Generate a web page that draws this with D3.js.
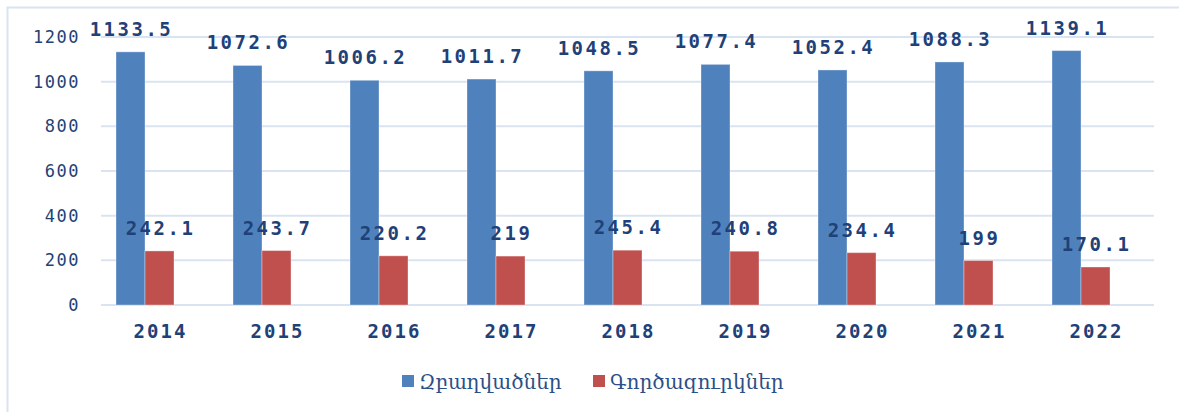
<!DOCTYPE html>
<html lang="hy">
<head>
<meta charset="utf-8">
<style>
  body { margin: 0; background: white; }
  svg { display: block; }
  .grid line { stroke: #d9e3f1; stroke-width: 2px; }
  .num { font-family: 'DejaVu Sans Mono', monospace; fill: #1f4178; }
</style>
</head>
<body>
<svg width="1179" height="412"></svg>
<script src="https://d3js.org/d3.v7.min.js"></script>
<script>
// data
var years = ["2014", "2015", "2016", "2017", "2018", "2019", "2020", "2021", "2022"];
var employed = [1133.5, 1072.6, 1006.2, 1011.7, 1048.5, 1077.4, 1052.4, 1088.3, 1139.1];
var unemployed = [242.1, 243.7, 220.2, 219, 245.4, 240.8, 234.4, 199, 170.1];
var seriesNames = ["Զբաղվածներ", "Գործազուրկներ"];
var colors = ["#4f81bd", "#c0504d"];
var yTicks = [0, 200, 400, 600, 800, 1000, 1200];

var svg = d3.select("svg");

// outer frame
svg.append("path")
    .attr("d", "M7.5,412 V7.5 H1179")
    .attr("fill", "none")
    .attr("stroke", "#d9e3f1")
    .attr("stroke-width", 2);

var plotLeft = 101, plotRight = 1154, plotTop = 37, plotBottom = 305;

var x = d3.scaleBand().domain(years).range([plotLeft, plotRight]).paddingInner(30 / 117).paddingOuter(15 / 117);
// three slots per cluster (third one empty, like the original)
var xs = d3.scaleBand().domain([0, 1, 2]).range([0, x.bandwidth()]);
var y = d3.scaleLinear().domain([0, 1200]).range([plotBottom, plotTop]);

// gridlines
svg.append("g").attr("class", "grid")
  .selectAll("line").data(yTicks).enter().append("line")
    .attr("x1", plotLeft).attr("x2", plotRight)
    .attr("y1", d => y(d)).attr("y2", d => y(d));

// y tick labels
svg.append("g").selectAll("text").data(yTicks).enter().append("text")
    .attr("class", "num")
    .attr("x", 80).attr("y", d => y(d) + 6)
    .attr("text-anchor", "end")
    .style("font-size", "17px")
    .style("letter-spacing", "1.5px")
    .text(d => d);

var series = [employed, unemployed];
series.forEach(function(vals, si) {
  var g = svg.append("g");
  g.selectAll("rect").data(vals).enter().append("rect")
      .attr("x", (d, i) => x(years[i]) + xs(si))
      .attr("width", xs.bandwidth())
      .attr("y", d => y(d))
      .attr("height", d => y(0) - y(d))
      .attr("fill", colors[si])
      .attr("stroke", "rgba(255,255,255,0.35)")
      .attr("stroke-width", 1);
  g.selectAll("text").data(vals).enter().append("text")
      .attr("class", "num")
      .attr("x", (d, i) => x(years[i]) + xs(si) + xs.bandwidth() / 2 + 1)
      .attr("y", d => y(d) - 16)
      .attr("text-anchor", "middle")
      .style("font-size", "19px")
      .style("font-weight", "bold")
      .style("letter-spacing", "2.5px")
      .text(d => d);
});

// category labels
svg.append("g").selectAll("text").data(years).enter().append("text")
    .attr("class", "num")
    .attr("x", d => x(d) + x.bandwidth() / 2 + 1)
    .attr("y", 338)
    .attr("text-anchor", "middle")
    .style("font-size", "19px")
    .style("font-weight", "bold")
    .style("letter-spacing", "2px")
    .text(d => d);

// legend
var legendX = [402, 593];
var lg = svg.append("g");
seriesNames.forEach(function(name, i) {
  lg.append("rect")
      .attr("x", legendX[i]).attr("y", 375)
      .attr("width", 12).attr("height", 12)
      .attr("fill", colors[i]);
  lg.append("text")
      .attr("x", legendX[i] + 17).attr("y", 389)
      .style("font-family", "'DejaVu Serif', serif")
      .style("font-size", "20px")
      .attr("fill", "#2b4f86")
      .text(name);
});
</script>
</body>
</html>
